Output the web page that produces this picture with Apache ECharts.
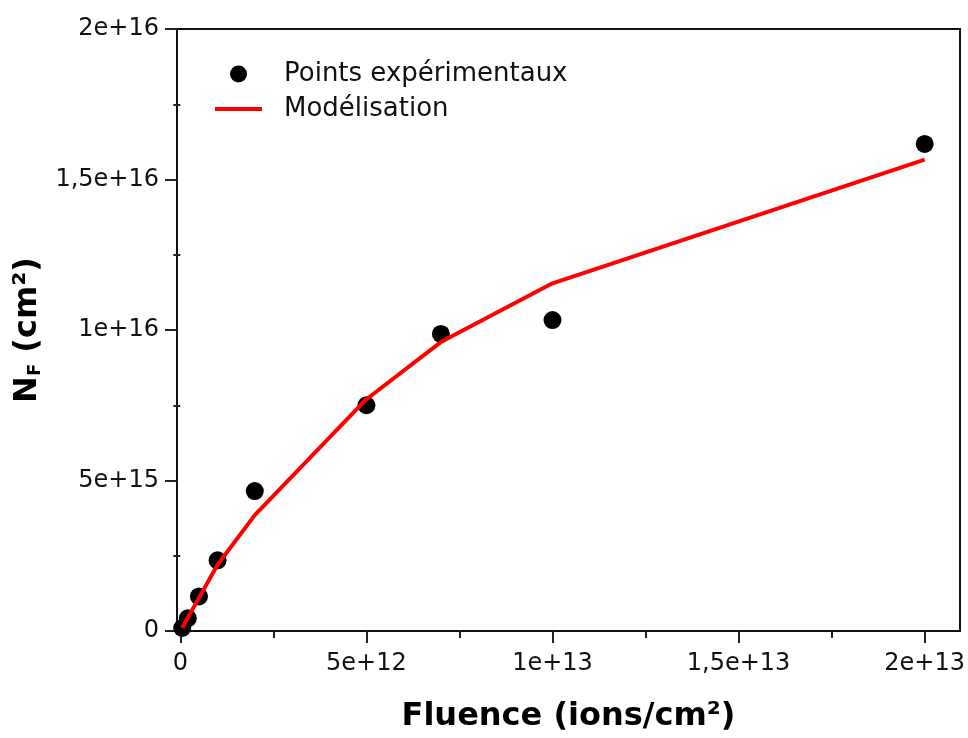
<!DOCTYPE html>
<html>
<head>
<meta charset="utf-8">
<script src="https://cdn.jsdelivr.net/npm/echarts@6/dist/echarts.min.js"></script>
<style>
  html, body { margin: 0; padding: 0; background: #fff; }
  #chart { width: 968px; height: 738px; }
</style>
</head>
<body>
<div id="chart"></div>
<script>
// fluence (ions/cm²) and N_F (cm⁻²)
var expFluence = [5e10, 2e11, 5e11, 1e12, 2e12, 5e12, 7e12, 1e13, 2e13];
var expNF      = [1.0e14, 4.2e14, 1.15e15, 2.35e15, 4.65e15, 7.5e15, 9.87e15, 1.033e16, 1.618e16];

var modelFluence = [5e10, 2e11, 5e11, 1e12, 2e12, 5e12, 7e12, 1e13, 2e13];
var modelNF      = [1.1e14, 4.4e14, 1.1e15, 2.2e15, 3.85e15, 7.7e15, 9.6e15, 1.155e16, 1.566e16];

var xMajor = [0, 5e12, 1e13, 1.5e13, 2e13];
var xMinor = [2.5e12, 7.5e12, 1.25e13, 1.75e13];
var xTickLabels = ['0', '5e+12', '1e+13', '1,5e+13', '2e+13'];

var yMajor = [0, 5e15, 1e16, 1.5e16, 2e16];
var yMinor = [2.5e15, 7.5e15, 1.25e16, 1.75e16];
var yTickLabels = ['0', '5e+15', '1e+16', '1,5e+16', '2e+16'];

var FONT = 'DejaVu Sans';

function labelFor(ticks, labels) {
	return function (v) {
		for (var i = 0; i < ticks.length; i++) {
			if (Math.abs(ticks[i] - v) < 1e-6 * (Math.abs(v) + 1)) return labels[i];
		}
		return '';
	};
}

var chart = echarts.init(document.getElementById('chart'));

var option = {
	animation: false,
	backgroundColor: '#fff',
	grid: {
		left: 177, right: 6, top: 29, bottom: 101,
		show: true, borderColor: '#111', borderWidth: 2, backgroundColor: 'transparent'
	},
	legend: {
		orient: 'vertical',
		left: 208,
		top: 54,
		itemWidth: 47,
		itemHeight: 17,
		itemGap: 5,
		data: ['Points expérimentaux', 'Modélisation'],
		lineStyle: { width: 4 },
		textStyle: {
			fontFamily: FONT, fontSize: 26, color: '#111',
			lineHeight: 30, padding: [0, 0, 0, 17]
		}
	},
	xAxis: [{
		type: 'value',
		min: -9e10,
		max: 2.095e13,
		position: 'bottom',
		name: 'Fluence (ions/cm²)',
		nameLocation: 'middle',
		nameGap: 70,
		nameTextStyle: { fontFamily: FONT, fontSize: 32, fontWeight: 'bold', color: '#000' },
		axisLine: { show: true, onZero: false, lineStyle: { color: '#111', width: 2 } },
		axisTick: { show: true, customValues: xMajor, length: 12, lineStyle: { color: '#222', width: 2 } },
		axisLabel: {
			customValues: xMajor, margin: 21,
			fontFamily: FONT, fontSize: 24, color: '#111',
			formatter: labelFor(xMajor, xTickLabels)
		},
		splitLine: { show: false }
	}, {
		type: 'value',
		min: -9e10,
		max: 2.095e13,
		position: 'bottom',
		axisLine: { show: false },
		axisTick: { show: true, customValues: xMinor, length: 7, lineStyle: { color: '#222', width: 2 } },
		axisLabel: { show: false },
		splitLine: { show: false }
	}],
	yAxis: [{
		type: 'value',
		min: 0,
		max: 2e16,
		position: 'left',
		name: '{n|N}{s|F}{n| (cm²)}',
		nameLocation: 'middle',
		nameRotate: 90,
		nameGap: 133,
		nameTextStyle: {
			rich: {
				n: { fontFamily: FONT, fontSize: 32, fontWeight: 'bold', color: '#000' },
				s: { fontFamily: FONT, fontSize: 18, fontWeight: 'bold', color: '#000', verticalAlign: 'bottom' }
			}
		},
		axisLine: { show: true, onZero: false, lineStyle: { color: '#111', width: 2 } },
		axisTick: { show: true, customValues: yMajor, length: 12, lineStyle: { color: '#222', width: 2 } },
		axisLabel: {
			customValues: yMajor, margin: 18,
			fontFamily: FONT, fontSize: 24, color: '#111',
			formatter: labelFor(yMajor, yTickLabels)
		},
		splitLine: { show: false }
	}, {
		type: 'value',
		min: 0,
		max: 2e16,
		position: 'left',
		axisLine: { show: false },
		axisTick: { show: true, customValues: yMinor, length: 7, lineStyle: { color: '#222', width: 2 } },
		axisLabel: { show: false },
		splitLine: { show: false }
	}],
	series: [{
		name: 'Points expérimentaux',
		type: 'scatter',
		symbol: 'circle',
		symbolSize: 18,
		itemStyle: { color: '#000', opacity: 1 },
		data: expFluence.map(function (x, i) { return [x, expNF[i]]; })
	}, {
		name: 'Modélisation',
		type: 'line',
		symbol: 'none',
		lineStyle: { color: '#ff0000', width: 4 },
		itemStyle: { color: 'rgba(0,0,0,0)' },
		data: modelFluence.map(function (x, i) { return [x, modelNF[i]]; })
	}]
};

chart.setOption(option);
</script>
</body>
</html>
